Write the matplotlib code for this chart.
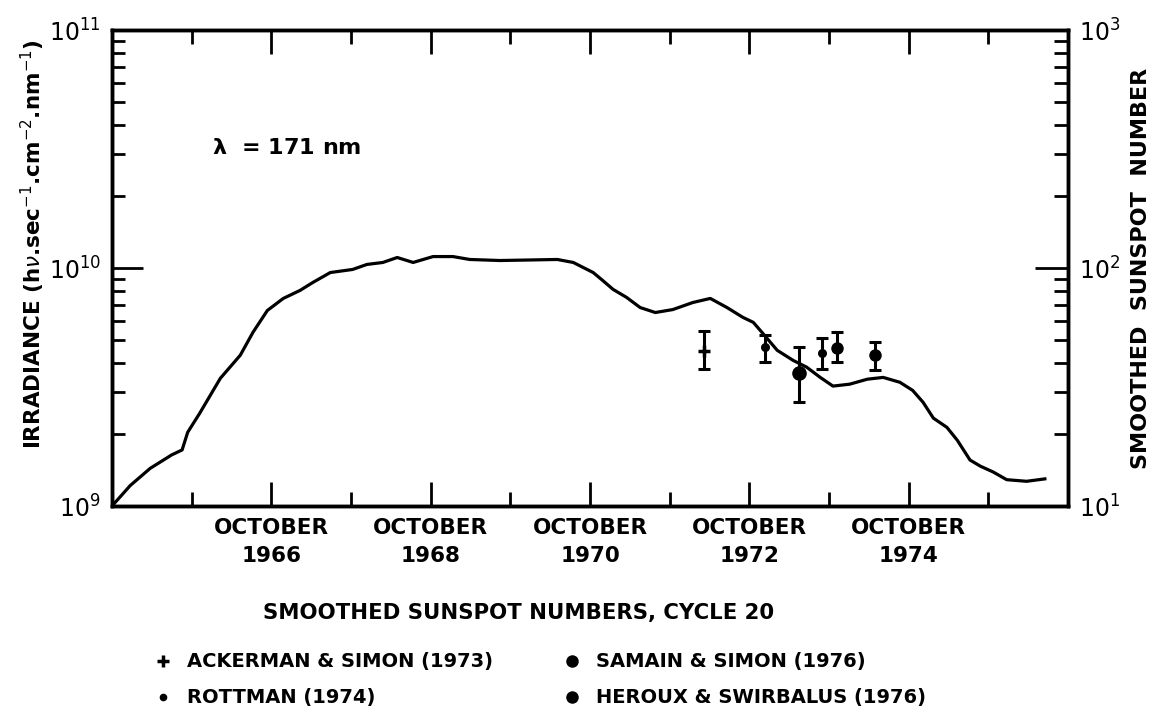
import numpy as np
import matplotlib
matplotlib.use("Agg")
import matplotlib.pyplot as plt
from matplotlib.lines import Line2D

# smoothed sunspot number, cycle 20 (right axis)
ssn_year = [1964.75, 1964.98, 1965.23, 1965.50, 1965.63, 1965.70, 1965.85, 1966.11,
            1966.36, 1966.52, 1966.70, 1966.90, 1967.11, 1967.27, 1967.49, 1967.77,
            1967.95, 1968.15, 1968.33, 1968.53, 1968.78, 1969.03, 1969.24, 1969.62,
            1970.34, 1970.54, 1970.79, 1970.91, 1971.04, 1971.21, 1971.38, 1971.57,
            1971.79, 1972.04, 1972.26, 1972.47, 1972.67, 1972.80, 1972.92, 1973.10,
            1973.30, 1973.47, 1973.64, 1973.80, 1974.01, 1974.23, 1974.43, 1974.64,
            1974.80, 1974.93, 1975.06, 1975.23, 1975.36, 1975.52, 1975.65, 1975.81,
            1975.98, 1976.23, 1976.46]
ssn_value = [10.0, 12.2, 14.4, 16.4, 17.2, 20.4, 24.5, 34.4,
             43.0, 53.7, 66.3, 74.5, 80.5, 86.9, 95.7, 98.6,
             103.5, 105.5, 110.7, 105.5, 111.7, 111.7, 108.6, 107.5,
             108.6, 105.5, 95.7, 88.6, 81.3, 75.2, 68.2, 65.0,
             66.9, 71.6, 74.5, 68.2, 62.0, 59.1, 53.1, 45.1,
             40.9, 38.3, 34.7, 31.9, 32.5, 34.1, 34.7, 33.1,
             30.6, 27.3, 23.4, 21.4, 18.9, 15.6, 14.7, 13.9,
             12.9, 12.7, 13.0]

# irradiance measurements at 171 nm (left axis)
ack_year = [1972.18]
ack_irr = [4.47e9]
ack_lo = [3.75e9]
ack_hi = [5.42e9]

rott_year = [1972.95, 1973.66]
rott_irr = [4.64e9, 4.38e9]
rott_lo = [4.02e9, 3.75e9]
rott_hi = [5.21e9, 5.06e9]

sam_year = [1973.37]
sam_irr = [3.61e9]
sam_lo = [2.73e9]
sam_hi = [4.64e9]

her_year = [1973.85, 1974.33]
her_irr = [4.60e9, 4.30e9]
her_lo = [4.02e9, 3.72e9]
her_hi = [5.37e9, 4.87e9]

oct_years = [1966, 1968, 1970, 1972, 1974]
minor_years = [1965, 1967, 1969, 1971, 1973, 1975]

legend_labels = ["ACKERMAN & SIMON (1973)", "ROTTMAN (1974)",
                 "SAMAIN & SIMON (1976)", "HEROUX & SWIRBALUS (1976)"]

plt.rcParams['font.family'] = ['DejaVu Sans']

W, H = 1159, 718
fig = plt.figure(figsize=(W/100, H/100), dpi=100)
ax = fig.add_axes([112/W, 1-506/H, (1068-112)/W, (506-30)/H])
ax2 = ax.twinx()

# curve on the sunspot axis
ax2.plot(ssn_year, ssn_value, color='black', lw=2.3, solid_joinstyle='round')

def errpts(x, y, lo, hi, marker, ms, mew=0):
    y = np.array(y)
    err = [y - np.array(lo), np.array(hi) - y]
    ax.errorbar(x, y, yerr=err, fmt='none', ecolor='black', elinewidth=2.2,
                capsize=4.5, capthick=2.2, zorder=3)
    ax.plot(x, y, ls='none', marker=marker, ms=ms, color='black', mew=mew, zorder=4)

errpts(ack_year, ack_irr, ack_lo, ack_hi, '+', 8, 2.5)
errpts(rott_year, rott_irr, rott_lo, rott_hi, 'o', 6.5)
errpts(sam_year, sam_irr, sam_lo, sam_hi, 'o', 10.5)
errpts(her_year, her_irr, her_lo, her_hi, 'o', 9)

ax.set_xlim(1964.75, 1976.75)
ax.set_yscale('log')
ax.set_ylim(1e9, 1e11)
ax2.set_yscale('log')
ax2.set_ylim(10, 1000)

ax.set_xticks([y + 0.75 for y in oct_years])
ax.set_xticklabels(["OCTOBER\n%d" % y for y in oct_years], fontsize=15.5,
                   fontweight='bold', linespacing=1.45)
ax.set_xticks([y + 0.75 for y in minor_years], minor=True)
ax.tick_params(axis='x', which='major', direction='in', length=17, width=2,
               top=True, pad=9)
ax.tick_params(axis='x', which='minor', direction='in', length=10, width=2, top=True)

ax.set_yticks([1e9, 1e10, 1e11])
ax.tick_params(axis='y', which='major', direction='in', length=22, width=2,
               labelsize=17, pad=8)
ax.tick_params(axis='y', which='minor', direction='in', length=9, width=2)
ax2.set_yticks([10, 100, 1000])
ax2.tick_params(axis='y', which='major', direction='in', length=24, width=2,
                labelsize=17, pad=8)
ax2.tick_params(axis='y', which='minor', direction='in', length=10, width=2)

for a in (ax, ax2):
    for s in a.spines.values():
        s.set_linewidth(2.5)

ax.text(1966.0, 3.0e10, r"$\mathbf{\lambda}$  = 171 nm", fontsize=16, fontweight='bold')

fig.text(33/W, 1-244/H,
         r"IRRADIANCE (h$\nu$.sec$^{-1}$.cm$^{-2}$.nm$^{-1}$)",
         rotation=90, ha='center', va='center', fontsize=15.5, fontweight='bold')
fig.text(1141/W, 1-268/H, "SMOOTHED  SUNSPOT  NUMBER",
         rotation=90, ha='center', va='center', fontsize=16, fontweight='bold')
fig.text(519/W, 1-613/H, "SMOOTHED SUNSPOT NUMBERS, CYCLE 20",
         ha='center', va='center', fontsize=15.3, fontweight='bold')

# legend by hand
leg_pos = [(163, 661), (163, 697), (572, 661), (572, 697)]
leg_mark = [('+', 8, 2.5), ('o', 5.5, 0), ('o', 9, 0), ('o', 9, 0)]
for (px, py), (m, ms, mew), lab in zip(leg_pos, leg_mark, legend_labels):
    fig.add_artist(Line2D([px/W], [1-py/H], marker=m, ms=ms, mew=mew,
                          color='black', ls='none', transform=fig.transFigure))
    fig.text((px+24)/W, 1-py/H, lab, ha='left', va='center',
             fontsize=14, fontweight='bold')

fig.savefig("out.png", dpi=100)
